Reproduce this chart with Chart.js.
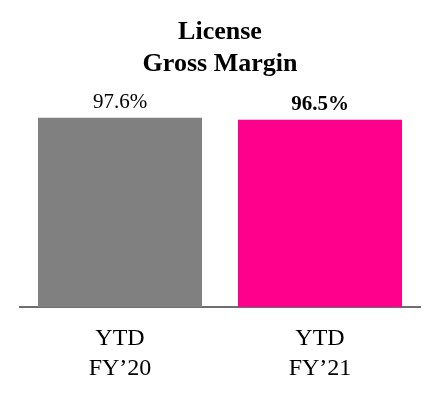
<!DOCTYPE html>
<html>
<head>
<meta charset="utf-8">
<script src="https://cdn.jsdelivr.net/npm/chart.js@4"></script>
<style>
  body { margin: 0; background: #fff; }
  canvas { display: block; }
</style>
</head>
<body>
<canvas id="marginChart" width="440" height="400"></canvas>
<script>
// データ
const categories = [['YTD', 'FY’20'], ['YTD', 'FY’21']];
const margins = [97.6, 96.5];
const valueLabels = ['97.6%', '96.5%'];
const labelBold = [false, true];
const barColors = ['#808080', '#ff008c'];

const serif = '"Liberation Serif", "Times New Roman", serif';

// 棒の上の数値
const valueLabelPlugin = {
    id: 'valueLabels',
    afterDatasetsDraw(chart) {
        const ctx = chart.ctx;
        const meta = chart.getDatasetMeta(0);
        ctx.save();
        ctx.textAlign = 'center';
        ctx.textBaseline = 'alphabetic';
        ctx.fillStyle = '#000';
        meta.data.forEach((bar, i) => {
            ctx.font = (labelBold[i] ? 'bold ' : '') + '21px ' + serif;
            ctx.fillText(valueLabels[i], bar.x, bar.y - 10);
        });
        ctx.restore();
    }
};

const ctx = document.getElementById('marginChart').getContext('2d');
new Chart(ctx, {
    type: 'bar',
    data: {
        labels: categories,
        datasets: [{
            data: margins,
            backgroundColor: barColors,
            borderWidth: 0,
            barPercentage: 0.82,
            categoryPercentage: 1.0
        }]
    },
    options: {
        responsive: false,
        animation: false,
        layout: { padding: { left: 20, right: 20, top: 0, bottom: 0 } },
        plugins: {
            legend: { display: false },
            tooltip: { enabled: false },
            title: {
                display: true,
                text: ['License', 'Gross Margin'],
                color: '#000',
                font: { family: serif, size: 26, weight: 'bold', lineHeight: 32 / 26 },
                padding: { top: 16, bottom: 33 }
            }
        },
        scales: {
            x: {
                grid: { display: false, drawTicks: false },
                border: { display: true, color: '#6e6e6e', width: 2 },
                ticks: {
                    color: '#000',
                    padding: 17,
                    font: { family: serif, size: 24, lineHeight: 1.25 }
                },
                afterFit: (scale) => { scale.height = 93; }
            },
            y: {
                display: false,
                min: 0,
                max: 100
            }
        }
    },
    plugins: [valueLabelPlugin]
});
</script>
</body>
</html>
